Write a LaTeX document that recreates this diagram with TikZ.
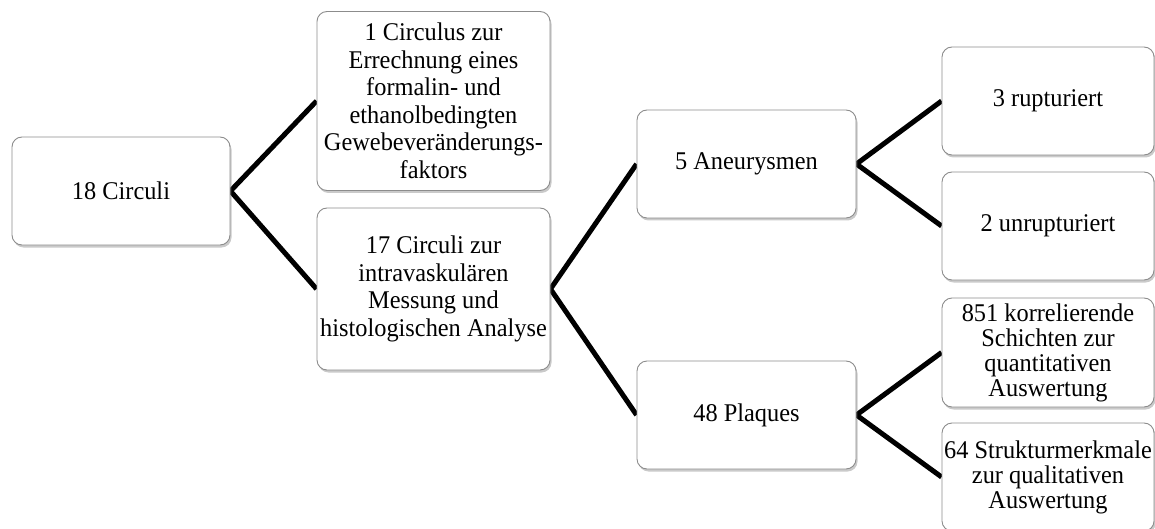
\documentclass[tikz,border=0pt]{standalone}
\usepackage{fontspec}
\setmainfont{Liberation Serif}[FakeStretch=0.955]
\usetikzlibrary{shadows,backgrounds}
\begin{document}
\begin{tikzpicture}[x=1pt,y=-1pt,
  box/.style={draw=black!45, line width=0.9pt, fill=white, rounded corners=10pt,
    inner sep=0pt, align=center, font=\fontsize{25.5}{25}\selectfont,
    drop shadow={shadow xshift=1.5pt, shadow yshift=-2.5pt, opacity=0.35, fill=black!60}},
  widebox/.style={box, font=\fontsize{25.5}{27.5}\selectfont},
  conn/.style={line width=5pt, black, line join=miter}]
\useasboundingbox (0,0) rectangle (1155,529);
\node[box, minimum width=218pt, minimum height=108pt] (a) at (121,191) {18 Circuli};
\node[widebox, minimum width=233pt, minimum height=179pt] (b) at (433.5,101) {1 Circulus zur\\Errechnung eines\\formalin- und\\ethanolbedingten\\Gewebeveränderungs-\\faktors};
\node[widebox, minimum width=233pt, minimum height=162pt] (c) at (433.5,289) {17 Circuli zur\\intravaskulären\\Messung und\\histologischen Analyse};
\node[box, minimum width=219pt, minimum height=108pt] (d) at (746.5,164) {5 Aneurysmen};
\node[box, minimum width=219pt, minimum height=108pt] (e) at (746.5,415) {48 Plaques};
\node[box, minimum width=212pt, minimum height=108pt] (f) at (1048,101) {3 rupturiert};
\node[box, minimum width=212pt, minimum height=108pt] (g) at (1048,226) {2 unrupturiert};
\node[box, minimum width=212pt, minimum height=109pt] (h) at (1048,352.5) {851 korrelierende\\Schichten zur\\quantitativen\\Auswertung};
\node[box, minimum width=212pt, minimum height=108pt] (i) at (1048,477) {64 Strukturmerkmale\\zur qualitativen\\Auswertung};
\begin{scope}[on background layer]
\draw[conn] (b.west) -- (a.east) -- (c.west);
\draw[conn] (d.west) -- (c.east) -- (e.west);
\draw[conn] (f.west) -- (d.east) -- (g.west);
\draw[conn] (h.west) -- (e.east) -- (i.west);
\end{scope}
\end{tikzpicture}
\end{document}
